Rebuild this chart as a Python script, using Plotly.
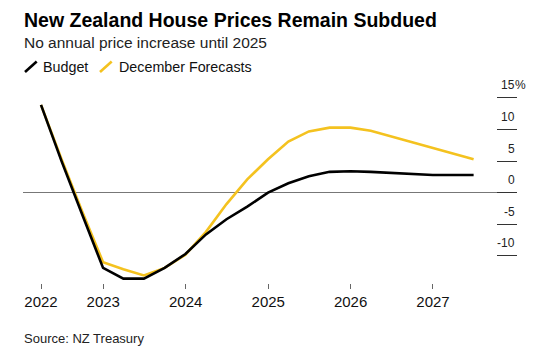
import plotly.graph_objects as go

# Quarterly annual % change in NZ house prices
quarters = [
    "2022-03-31", "2022-06-30", "2022-09-30", "2022-12-31",
    "2023-03-31", "2023-06-30", "2023-09-30", "2023-12-31",
    "2024-03-31", "2024-06-30", "2024-09-30", "2024-12-31",
    "2025-03-31", "2025-06-30", "2025-09-30", "2025-12-31",
    "2026-03-31", "2026-06-30", "2026-09-30", "2026-12-31",
    "2027-03-31", "2027-06-30",
]
budget = [
    13.9, 5.0, -3.5, -11.9,
    -13.6, -13.6, -11.9, -9.7,
    -6.6, -4.2, -2.2, 0.0,
    1.5, 2.6, 3.3, 3.4,
    3.3, 3.1, 2.9, 2.8,
    2.8, 2.8,
]
december = [
    13.9, 5.3, -3.0, -11.0,
    -12.1, -13.1, -11.9, -9.8,
    -6.2, -1.8, 2.1, 5.3,
    8.1, 9.7, 10.3, 10.3,
    9.8, 8.9, 8.1, 7.1,
    6.2, 5.3,
]

series_names = ["Budget", "December Forecasts"]
series_colors = ["#000000", "#F4C21F"]

x_tick_vals = ["2022-03-31", "2023-01-01", "2024-01-01", "2025-01-01", "2026-01-01", "2027-01-01"]
x_tick_text = ["2022", "2023", "2024", "2025", "2026", "2027"]
y_tick_vals = [-10, -5, 0, 5, 10, 15]
y_tick_text = ["-10", "-5", "0", "5", "10", "15"]

W, H = 552, 349
L, R, T, B = 23, 35, 90, 66
PW, PH = W - L - R, H - T - B
FONT = "Liberation Sans, Arial, sans-serif"


def px(xp):
    return (xp - L) / PW


def py(yp):
    return (H - B - yp) / PH


fig = go.Figure()
# yellow first so the black line sits on top where they overlap
fig.add_trace(go.Scatter(x=quarters, y=december, mode="lines", name=series_names[1],
                         line=dict(color=series_colors[1], width=2.6)))
fig.add_trace(go.Scatter(x=quarters, y=budget, mode="lines", name=series_names[0],
                         line=dict(color=series_colors[0], width=2.6)))

annotations = [
    dict(text="<b>New Zealand House Prices Remain Subdued</b>", x=px(22), y=py(19.5),
         font=dict(size=19.5, color="#000000")),
    dict(text="No annual price increase until 2025", x=px(22), y=py(42),
         font=dict(size=15.5, color="#222222")),
    dict(text=series_names[0], x=px(41), y=py(66.5), font=dict(size=14.3, color="#111111")),
    dict(text=series_names[1], x=px(117), y=py(66.5), font=dict(size=14.3, color="#111111")),
    dict(text="Source: NZ Treasury", x=px(22), y=py(338.5), font=dict(size=13, color="#222222")),
]
for a in annotations:
    a.update(xref="paper", yref="paper", xanchor="left", yanchor="middle",
             showarrow=False)
    a["font"]["family"] = FONT

# right-hand value labels sit just above their tick marks
for v, t in zip(y_tick_vals, y_tick_text):
    annotations.append(dict(text=t, x=px(517), y=v, xref="paper", yref="y",
                            xanchor="right", yanchor="middle", yshift=12.5,
                            showarrow=False,
                            font=dict(family=FONT, size=12, color="#222222")))
annotations.append(dict(text="%", x=px(512.5), y=y_tick_vals[-1], xref="paper", yref="y",
                        xanchor="left", yanchor="middle", yshift=12.5, showarrow=False,
                        font=dict(family=FONT, size=12, color="#222222")))

# slanted legend keys
shapes = []
for (x0, x1), c in zip([(25, 36.7), (100, 111.7)], series_colors):
    shapes.append(dict(type="line", xref="paper", yref="paper",
                       x0=px(x0), x1=px(x1), y0=py(72), y1=py(61.5),
                       line=dict(color=c, width=2.6)))

fig.update_layout(
    width=W, height=H,
    margin=dict(l=L, r=R, t=T, b=B),
    paper_bgcolor="white", plot_bgcolor="white",
    showlegend=False,
    font=dict(family=FONT, color="#111111"),
    annotations=annotations,
    shapes=shapes,
    xaxis=dict(
        type="date",
        range=["2022-01-10 06:00", "2028-01-08 07:00"],
        tickvals=x_tick_vals, ticktext=x_tick_text,
        ticks="outside", ticklen=5, tickwidth=1, tickcolor="#666666",
        showline=False, showgrid=False, zeroline=False,
        tickfont=dict(size=15, color="#111111"),
    ),
    yaxis=dict(
        side="right",
        range=[-14.29, 16.25],
        tickvals=y_tick_vals,
        ticks="inside", ticklen=20, tickwidth=1, tickcolor="#333333",
        showticklabels=False, showgrid=False, showline=False,
        zeroline=True, zerolinecolor="#777777", zerolinewidth=1,
    ),
)

fig.write_html("out.html")
